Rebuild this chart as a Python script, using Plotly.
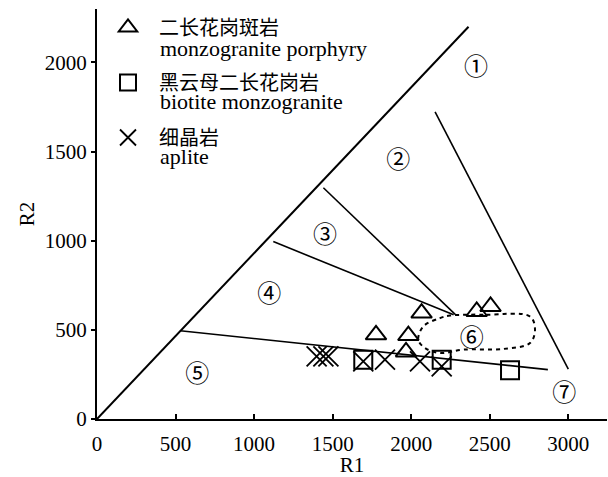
import plotly.graph_objects as go

# Sample compositions (R1, R2)
porphyry_r1 = [2066, 2417, 2505, 1776, 1982, 1967]
porphyry_r2 = [594, 603, 631, 472, 468, 376]

biotite_r1 = [1695, 2194, 2629]
biotite_r2 = [333, 333, 273]

aplite_r1 = [1398, 1441, 1473, 1695, 1833, 2056, 2194]
aplite_r2 = [351, 351, 351, 323, 333, 323, 295]

# Field boundaries of the R1-R2 diagram
outer_r1 = [0, 2365]
outer_r2 = [0, 2200]
b45_r1 = [530, 2870]
b45_r2 = [495, 277]
b34_r1 = [1122, 2270]
b34_r2 = [995, 585]
b23_r1 = [1441, 2280]
b23_r2 = [1297, 587]
b12_r1 = [2152, 3000]
b12_r2 = [1722, 280]

# Field 6 outline
f6_r1 = [2247, 2480, 2756, 2788, 2756, 2587, 2332, 2183, 2088, 2045, 2077, 2183, 2247]
f6_r2 = [580, 585, 575, 501, 426, 393, 389, 370, 398, 445, 519, 566, 580]

# Field numbers
field_labels = ["①", "②", "③", "④", "⑤", "⑥", "⑦"]
field_r1 = [2412, 1918, 1451, 1097, 638, 2385, 2975]
field_r2 = [1965, 1439, 1023, 691, 243, 445, 135]

x_ticks = [0, 500, 1000, 1500, 2000, 2500, 3000]
y_ticks = [0, 500, 1000, 1500, 2000]

legend_cn = ["二长花岗斑岩", "黑云母二长花岗岩", "细晶岩"]
legend_en = ["monzogranite porphyry", "biotite monzogranite", "aplite"]

SERIF = "Liberation Serif, Times New Roman, Noto Sans CJK SC, serif"
CJK = "Noto Sans CJK SC, Liberation Serif, serif"

fig = go.Figure()

def boundary(xs, ys, width=1.6, dash=None, shape="linear"):
    fig.add_trace(go.Scatter(
        x=xs, y=ys, mode="lines", showlegend=False, hoverinfo="skip",
        line=dict(color="black", width=width, dash=dash, shape=shape),
    ))

boundary(outer_r1, outer_r2, width=2)
boundary(b45_r1, b45_r2)
boundary(b34_r1, b34_r2)
boundary(b23_r1, b23_r2)
boundary(b12_r1, b12_r2)
boundary(f6_r1, f6_r2, width=2, dash="4px,4px", shape="spline")

fig.add_trace(go.Scatter(
    x=field_r1, y=field_r2, mode="text", text=field_labels, showlegend=False,
    hoverinfo="skip", textfont=dict(family=CJK, size=24, color="black"),
))

fig.add_trace(go.Scatter(
    x=porphyry_r1, y=porphyry_r2, mode="markers", name=legend_cn[0],
    legendgroup="porphyry",
    marker=dict(symbol="triangle-up-open", size=18, color="black",
                line=dict(width=2, color="black")),
))
fig.add_trace(go.Scatter(
    x=biotite_r1, y=biotite_r2, mode="markers", name=legend_cn[1],
    legendgroup="biotite",
    marker=dict(symbol="square-open", size=18, color="black",
                line=dict(width=2, color="black")),
))
fig.add_trace(go.Scatter(
    x=aplite_r1, y=aplite_r2, mode="markers", name=legend_cn[2],
    legendgroup="aplite",
    marker=dict(symbol="x-thin-open", size=20, color="black",
                line=dict(width=1.8, color="black")),
))

W, H = 608, 477
ml, mr, mt, mb = 97, 1, 9, 58
pw, ph = W - ml - mr, H - mt - mb

def px_x(p):
    return (p - ml) / pw

def px_y(p):
    return (H - mb - p) / ph

en_y = [49, 102, 156]
for txt, yy in zip(legend_en, en_y):
    fig.add_annotation(
        x=px_x(158), y=px_y(yy), xref="paper", yref="paper",
        text=txt, showarrow=False, xanchor="left", yanchor="middle",
        font=dict(family=SERIF, size=22, color="black"),
    )

fig.update_layout(
    width=W, height=H,
    margin=dict(l=ml, r=mr, t=mt, b=mb),
    paper_bgcolor="white", plot_bgcolor="white",
    showlegend=True,
    legend=dict(
        x=px_x(97), y=px_y(8), xanchor="left", yanchor="top",
        bgcolor="rgba(0,0,0,0)", borderwidth=0,
        font=dict(family=CJK, size=20, color="black"),
        tracegroupgap=26, itemsizing="trace", itemwidth=52,
    ),
    xaxis=dict(
        range=[0, pw / 0.1571], tickvals=x_ticks, ticktext=[str(v) for v in x_ticks],
        showline=True, linecolor="black", linewidth=2, showgrid=False, zeroline=False,
        ticks="inside", ticklen=5, tickwidth=1.5, tickcolor="black", automargin=False,
        tickfont=dict(family=SERIF, size=21, color="black"), ticklabelstandoff=5,
        title=dict(text="R1", font=dict(family=SERIF, size=21, color="black"), standoff=8),
    ),
    yaxis=dict(
        range=[0, ph / 0.1783], tickvals=y_ticks, ticktext=[str(v) for v in y_ticks],
        showline=True, linecolor="black", linewidth=2, showgrid=False, zeroline=False,
        ticks="outside", ticklen=4, tickwidth=1.5, tickcolor="black", automargin=False,
        tickfont=dict(family=SERIF, size=21, color="black"),
        title=dict(text="R2", font=dict(family=SERIF, size=21, color="black"), standoff=4),
    ),
)

fig.write_html("out.html")
